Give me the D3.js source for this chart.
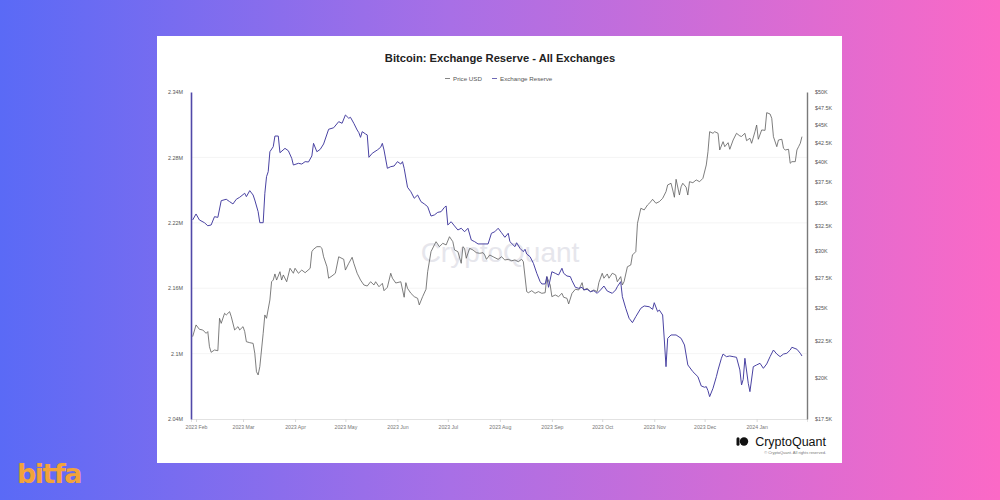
<!DOCTYPE html>
<html>
<head>
<meta charset="utf-8">
<script src="https://cdn.jsdelivr.net/npm/d3@7"></script>
<style>
  html, body { margin: 0; padding: 0; }
  body { width: 1000px; height: 500px; overflow: hidden; font-family: "Liberation Sans", Arial, sans-serif; }
</style>
</head>
<body>
<svg id="chart" width="1000" height="500"></svg>
<script>
// Exchange reserve (BTC, millions)
const reserveDates = [
  '2023-01-30','2023-02-01','2023-02-03','2023-02-06','2023-02-08','2023-02-10','2023-02-12','2023-02-14','2023-02-16','2023-02-19',
  '2023-02-21','2023-02-23','2023-02-25','2023-02-27','2023-03-02','2023-03-03','2023-03-05','2023-03-07','2023-03-08','2023-03-10',
  '2023-03-11','2023-03-13','2023-03-14','2023-03-15','2023-03-16','2023-03-17','2023-03-19','2023-03-20','2023-03-22','2023-03-23',
  '2023-03-26','2023-03-28','2023-03-30','2023-03-31','2023-04-03','2023-04-05','2023-04-07','2023-04-09','2023-04-11','2023-04-12',
  '2023-04-14','2023-04-16','2023-04-18','2023-04-21','2023-04-24','2023-04-27','2023-04-29','2023-05-01','2023-05-03','2023-05-04',
  '2023-05-06','2023-05-08','2023-05-09','2023-05-10','2023-05-11','2023-05-13','2023-05-14','2023-05-15','2023-05-17','2023-05-20',
  '2023-05-22','2023-05-23','2023-05-24','2023-05-26','2023-05-28','2023-05-30','2023-06-01','2023-06-03','2023-06-04','2023-06-05',
  '2023-06-07','2023-06-09','2023-06-11','2023-06-13','2023-06-15','2023-06-17','2023-06-19','2023-06-21','2023-06-23','2023-06-25',
  '2023-06-27','2023-06-29','2023-06-30','2023-07-01','2023-07-03','2023-07-05','2023-07-07','2023-07-09','2023-07-11','2023-07-13',
  '2023-07-15','2023-07-17','2023-07-19','2023-07-22','2023-07-25','2023-07-27','2023-07-29','2023-07-31','2023-08-02','2023-08-04',
  '2023-08-06','2023-08-07','2023-08-10','2023-08-11','2023-08-13','2023-08-15','2023-08-16','2023-08-17','2023-08-19','2023-08-21',
  '2023-08-23','2023-08-25','2023-08-26','2023-08-28','2023-08-29','2023-08-30','2023-09-01','2023-09-03','2023-09-05','2023-09-07',
  '2023-09-08','2023-09-10','2023-09-12','2023-09-13','2023-09-15','2023-09-17','2023-09-19','2023-09-20','2023-09-22','2023-09-24',
  '2023-09-26','2023-09-28','2023-09-30','2023-10-02','2023-10-04','2023-10-07','2023-10-09','2023-10-10','2023-10-12','2023-10-13',
  '2023-10-15','2023-10-17','2023-10-19','2023-10-21','2023-10-24','2023-10-26','2023-10-29','2023-10-31','2023-11-01','2023-11-03',
  '2023-11-04','2023-11-06','2023-11-07','2023-11-08','2023-11-09','2023-11-11','2023-11-14','2023-11-17','2023-11-19','2023-11-21',
  '2023-11-24','2023-11-27','2023-11-29','2023-12-01','2023-12-02','2023-12-03','2023-12-04','2023-12-06','2023-12-08','2023-12-09',
  '2023-12-11','2023-12-12','2023-12-14','2023-12-16','2023-12-18','2023-12-20','2023-12-22','2023-12-23','2023-12-24','2023-12-25',
  '2023-12-27','2023-12-28','2023-12-30','2024-01-01','2024-01-03','2024-01-05','2024-01-07','2024-01-09','2024-01-11','2024-01-13',
  '2024-01-15','2024-01-17','2024-01-19','2024-01-21','2024-01-22','2024-01-25','2024-01-27','2024-01-28'
];
const reserveValues = [
  2.2226,2.2281,2.2226,2.2201,2.2173,2.2180,2.2256,2.2250,2.2403,2.2416,
  2.2394,2.2373,2.2416,2.2434,2.2471,2.2440,2.2495,2.2455,2.2409,2.2302,
  2.2201,2.2201,2.2471,2.2623,2.2669,2.2852,2.2898,2.2996,2.2996,2.2843,
  2.2883,2.2861,2.2792,2.2730,2.2746,2.2739,2.2761,2.2758,2.2813,2.2929,
  2.2852,2.2874,2.2923,2.3058,2.3072,2.3128,2.3113,2.3189,2.3159,2.3168,
  2.3113,2.3051,2.3027,2.2984,2.3036,2.3015,2.3006,2.2801,2.2838,2.2868,
  2.2893,2.2929,2.2868,2.2700,2.2715,2.2721,2.2761,2.2739,2.2761,2.2700,
  2.2526,2.2485,2.2425,2.2455,2.2394,2.2373,2.2348,2.2262,2.2272,2.2296,
  2.2302,2.2342,2.2354,2.2180,2.2210,2.2171,2.2134,2.2150,2.2118,2.2150,
  2.2042,2.2027,2.2006,2.2006,2.2006,2.2104,2.2118,2.2150,2.2109,2.2067,
  2.2104,2.2027,2.1981,2.2017,2.1966,2.1935,2.1957,2.1914,2.1889,2.1828,
  2.1737,2.1660,2.1639,2.1639,2.1706,2.1608,2.1751,2.1737,2.1721,2.1783,
  2.1737,2.1712,2.1706,2.1669,2.1608,2.1599,2.1608,2.1584,2.1590,2.1568,
  2.1577,2.1553,2.1584,2.1620,2.1574,2.1553,2.1584,2.1614,2.1660,2.1522,
  2.1416,2.1324,2.1284,2.1339,2.1416,2.1437,2.1430,2.1406,2.1467,2.1385,
  2.1400,2.1354,2.1125,2.0880,2.1140,2.1171,2.1171,2.1140,2.1079,2.0896,
  2.0834,2.0788,2.0703,2.0691,2.0697,2.0660,2.0605,2.0682,2.0788,2.0850,
  2.0957,2.0996,2.0972,2.0978,2.0972,2.0966,2.0850,2.0712,2.0764,2.0957,
  2.0728,2.0651,2.0880,2.0896,2.0911,2.0865,2.0905,2.0972,2.1033,2.0996,
  2.0972,2.0996,2.1003,2.1033,2.1058,2.1040,2.1003,2.0978
];

// Price USD (thousands)
const priceDates = [
  '2023-01-30','2023-02-01','2023-02-03','2023-02-05','2023-02-07','2023-02-08','2023-02-09','2023-02-10','2023-02-12','2023-02-14',
  '2023-02-15','2023-02-16','2023-02-18','2023-02-19','2023-02-21','2023-02-22','2023-02-24','2023-02-26','2023-02-27','2023-03-01',
  '2023-03-02','2023-03-03','2023-03-05','2023-03-07','2023-03-08','2023-03-09','2023-03-10','2023-03-11','2023-03-13','2023-03-14',
  '2023-03-15','2023-03-17','2023-03-18','2023-03-19','2023-03-20','2023-03-21','2023-03-23','2023-03-24','2023-03-25','2023-03-27',
  '2023-03-29','2023-03-31','2023-04-01','2023-04-03','2023-04-05','2023-04-07','2023-04-10','2023-04-11','2023-04-12','2023-04-14',
  '2023-04-16','2023-04-17','2023-04-18','2023-04-20','2023-04-21','2023-04-23','2023-04-25','2023-04-27','2023-04-30','2023-05-01',
  '2023-05-03','2023-05-05','2023-05-06','2023-05-08','2023-05-10','2023-05-12','2023-05-14','2023-05-16','2023-05-18','2023-05-19',
  '2023-05-21','2023-05-23','2023-05-24','2023-05-26','2023-05-28','2023-05-29','2023-05-31','2023-06-03','2023-06-05','2023-06-06',
  '2023-06-07','2023-06-09','2023-06-11','2023-06-13','2023-06-14','2023-06-16','2023-06-18','2023-06-19','2023-06-21','2023-06-23',
  '2023-06-24','2023-06-26','2023-06-28','2023-06-30','2023-07-02','2023-07-04','2023-07-05','2023-07-07','2023-07-09','2023-07-10',
  '2023-07-11','2023-07-12','2023-07-14','2023-07-16','2023-07-18','2023-07-20','2023-07-22','2023-07-23','2023-07-24','2023-07-26',
  '2023-07-28','2023-07-31','2023-08-02','2023-08-04','2023-08-06','2023-08-08','2023-08-10','2023-08-12','2023-08-14','2023-08-15',
  '2023-08-17','2023-08-18','2023-08-20','2023-08-22','2023-08-24','2023-08-26','2023-08-28','2023-08-29','2023-08-31','2023-09-01',
  '2023-09-03','2023-09-05','2023-09-07','2023-09-08','2023-09-10','2023-09-11','2023-09-13','2023-09-15','2023-09-17','2023-09-19',
  '2023-09-20','2023-09-22','2023-09-24','2023-09-26','2023-09-28','2023-09-29','2023-10-01','2023-10-02','2023-10-04','2023-10-05',
  '2023-10-07','2023-10-09','2023-10-10','2023-10-12','2023-10-13','2023-10-14','2023-10-16','2023-10-18','2023-10-19','2023-10-21',
  '2023-10-22','2023-10-24','2023-10-26','2023-10-28','2023-10-30','2023-10-31','2023-11-02','2023-11-04','2023-11-06','2023-11-08',
  '2023-11-09','2023-11-11','2023-11-12','2023-11-13','2023-11-14','2023-11-16','2023-11-17','2023-11-18','2023-11-20','2023-11-21',
  '2023-11-22','2023-11-24','2023-11-26','2023-11-28','2023-11-30','2023-12-02','2023-12-03','2023-12-04','2023-12-06','2023-12-07',
  '2023-12-09','2023-12-10','2023-12-12','2023-12-13','2023-12-15','2023-12-16','2023-12-18','2023-12-20','2023-12-22','2023-12-23',
  '2023-12-25','2023-12-26','2023-12-28','2023-12-29','2023-12-31','2024-01-01','2024-01-02','2024-01-04','2024-01-06','2024-01-07',
  '2024-01-09','2024-01-10','2024-01-11','2024-01-13','2024-01-14','2024-01-16','2024-01-17','2024-01-18','2024-01-20','2024-01-21',
  '2024-01-22','2024-01-24','2024-01-25','2024-01-26','2024-01-27','2024-01-28'
];
const priceValues = [
  22.80,23.67,23.34,23.29,23.04,23.17,22.07,21.68,21.84,21.79,
  24.18,23.79,24.57,24.44,24.70,24.30,23.29,23.54,23.29,23.54,
  23.17,22.43,22.36,22.31,21.61,20.37,20.16,20.70,23.04,24.44,
  24.18,25.64,27.19,27.34,27.88,27.34,28.08,27.34,27.79,27.19,
  28.39,27.94,28.39,27.94,28.23,27.99,28.39,29.95,30.18,30.43,
  30.43,30.27,29.46,28.53,27.50,27.70,27.94,29.46,29.22,28.23,
  28.85,29.41,28.85,27.94,27.34,26.91,26.82,27.19,26.91,27.19,
  26.76,27.05,26.42,26.71,27.94,27.50,27.08,27.19,25.87,27.11,
  26.62,26.20,25.92,25.78,25.24,25.92,26.54,28.08,29.95,30.60,
  30.92,30.43,30.76,30.60,31.42,30.92,30.11,29.95,28.85,30.43,
  30.27,29.32,30.27,30.11,29.85,29.79,29.85,29.63,29.22,29.63,
  29.46,29.22,29.46,29.16,29.22,29.09,29.16,29.00,29.22,29.00,
  26.34,26.25,26.42,26.20,26.34,26.20,26.25,27.64,26.91,25.92,
  26.06,25.92,26.20,25.87,25.78,25.32,26.20,26.54,26.48,27.11,
  26.48,26.62,26.34,26.48,26.34,27.11,27.94,27.50,27.88,27.50,
  27.94,27.79,27.19,27.64,26.91,27.19,28.53,28.69,29.63,29.95,
  32.80,34.42,34.24,34.79,35.16,35.43,34.98,35.16,35.54,36.31,
  37.10,37.30,36.50,35.66,37.78,35.92,36.89,37.30,36.82,35.92,
  37.49,37.37,37.70,37.49,37.90,39.56,41.28,44.02,43.79,44.02,
  43.79,41.51,42.63,41.95,42.49,41.60,42.86,43.79,43.42,43.35,
  43.79,42.77,43.10,42.41,44.02,44.97,42.96,44.26,44.21,46.79,
  46.59,45.95,43.32,41.95,42.86,42.96,41.73,41.51,41.60,39.77,
  39.98,39.98,41.51,41.95,42.41,43.32
];

// Axis ticks
const reserveTicks = [2.04, 2.1, 2.16, 2.22, 2.28, 2.34];
const reserveTickLabels = ['2.04M', '2.1M', '2.16M', '2.22M', '2.28M', '2.34M'];
const priceTicks = [17.5, 20, 22.5, 25, 27.5, 30, 32.5, 35, 37.5, 40, 42.5, 45, 47.5, 50];
const priceTickLabels = ['$17.5K', '$20K', '$22.5K', '$25K', '$27.5K', '$30K', '$32.5K', '$35K', '$37.5K', '$40K', '$42.5K', '$45K', '$47.5K', '$50K'];

const parseDate = d3.utcParse('%Y-%m-%d');
const reserveData = reserveDates.map((d, i) => ({ date: parseDate(d), value: reserveValues[i] }));
const priceData = priceDates.map((d, i) => ({ date: parseDate(d), value: priceValues[i] }));

const svg = d3.select('#chart');

// Background gradient
const defs = svg.append('defs');
const grad = defs.append('linearGradient').attr('id', 'bg').attr('x1', '0').attr('x2', '1').attr('y1', '0').attr('y2', '0');
grad.append('stop').attr('offset', '0%').attr('stop-color', '#5a6af6');
grad.append('stop').attr('offset', '45%').attr('stop-color', '#a86fe6');
grad.append('stop').attr('offset', '100%').attr('stop-color', '#fb69c6');
svg.append('rect').attr('width', 1000).attr('height', 500).attr('fill', 'url(#bg)');

// White card
svg.append('rect').attr('x', 157).attr('y', 36).attr('width', 685).attr('height', 427).attr('fill', '#fff');

// Plot area
const plotLeft = 191, plotRight = 807, plotTop = 92, plotBottom = 419;

const x = d3.scaleUtc()
  .domain([parseDate('2023-01-29'), parseDate('2024-01-31')])
  .range([plotLeft, plotRight]);
const yL = d3.scaleLinear().domain([2.04, 2.34]).range([plotBottom, plotTop]);
const yR = d3.scaleLog().domain([17.5, 50]).range([plotBottom, plotTop]);

// Title
svg.append('text')
  .attr('x', 500).attr('y', 62)
  .attr('text-anchor', 'middle')
  .attr('font-size', '11.2px').attr('font-weight', 'bold').attr('fill', '#222')
  .text('Bitcoin: Exchange Reserve - All Exchanges');

// Legend
const legendItems = [
  { name: 'Price USD', color: '#666', x: 445 },
  { name: 'Exchange Reserve', color: '#4a43a3', x: 492 }
];
const legend = svg.append('g').attr('class', 'legend');
legendItems.forEach(item => {
  legend.append('line')
    .attr('x1', item.x).attr('x2', item.x + 5)
    .attr('y1', 78.5).attr('y2', 78.5)
    .attr('stroke', item.color).attr('stroke-width', 0.8);
  legend.append('text')
    .attr('x', item.x + 8).attr('y', 80.5)
    .attr('font-size', '6.2px').attr('fill', '#555')
    .text(item.name);
});

// Gridlines
svg.append('g')
  .selectAll('line')
  .data(reserveTicks.slice(1, -1))
  .enter()
  .append('line')
  .attr('x1', plotLeft).attr('x2', plotRight)
  .attr('y1', d => yL(d)).attr('y2', d => yL(d))
  .attr('stroke', '#f1f1f1').attr('stroke-width', 0.8);

// Watermark
svg.append('text')
  .attr('x', 500).attr('y', 262)
  .attr('text-anchor', 'middle')
  .attr('font-size', '28px').attr('fill', '#e6e6ec')
  .text('CryptoQuant');

// X axis
const xAxis = d3.axisBottom(x)
  .ticks(d3.utcMonth.every(1))
  .tickFormat(d3.utcFormat('%Y %b'))
  .tickSize(3)
  .tickPadding(3);
const gx = svg.append('g')
  .attr('transform', `translate(0,${plotBottom})`)
  .call(xAxis);
gx.select('.domain').attr('stroke', '#e2e2e2');
gx.selectAll('.tick line').attr('stroke', '#d8d8d8');
gx.selectAll('.tick text').attr('font-size', '5.2px').attr('fill', '#777')
  .attr('font-family', '"Liberation Sans", Arial, sans-serif');

// Left axis
const gl = svg.append('g')
  .attr('transform', `translate(${plotLeft},0)`)
  .call(d3.axisLeft(yL).tickValues(reserveTicks).tickFormat((d, i) => reserveTickLabels[i]).tickSize(0).tickPadding(8));
gl.select('.domain').attr('stroke', '#5048a8').attr('stroke-width', 1.6);
gl.selectAll('.tick text').attr('font-size', '5.4px').attr('fill', '#555')
  .attr('font-family', '"Liberation Sans", Arial, sans-serif');

// Right axis
const gr = svg.append('g')
  .attr('transform', `translate(${plotRight},0)`)
  .call(d3.axisRight(yR).tickValues(priceTicks).tickFormat((d, i) => priceTickLabels[i]).tickSize(0).tickPadding(8));
gr.select('.domain').attr('stroke', '#7a7a7a').attr('stroke-width', 1.4);
gr.selectAll('.tick text').attr('font-size', '5.4px').attr('fill', '#555')
  .attr('font-family', '"Liberation Sans", Arial, sans-serif');

// Lines
const priceLine = d3.line().x(d => x(d.date)).y(d => yR(d.value));
const reserveLine = d3.line().x(d => x(d.date)).y(d => yL(d.value));

svg.append('path')
  .datum(priceData)
  .attr('d', priceLine)
  .attr('fill', 'none')
  .attr('stroke', '#5d5d5d')
  .attr('stroke-width', 0.8)
  .attr('stroke-linejoin', 'round');

svg.append('path')
  .datum(reserveData)
  .attr('d', reserveLine)
  .attr('fill', 'none')
  .attr('stroke', '#4a43a3')
  .attr('stroke-width', 1)
  .attr('stroke-linejoin', 'round');

// CryptoQuant logo (bottom right)
const logo = svg.append('g');
logo.append('circle').attr('cx', 744).attr('cy', 441.5).attr('r', 4.2).attr('fill', '#111');
logo.append('rect').attr('x', 736.5).attr('y', 437.3).attr('width', 3).attr('height', 8.4).attr('rx', 1.5).attr('fill', '#111');
logo.append('text')
  .attr('x', 826).attr('y', 446)
  .attr('text-anchor', 'end')
  .attr('font-size', '12.5px').attr('fill', '#111')
  .text('CryptoQuant');
logo.append('text')
  .attr('x', 826).attr('y', 453.5)
  .attr('text-anchor', 'end')
  .attr('font-size', '4px').attr('fill', '#777')
  .text('© CryptoQuant. All rights reserved.');

// bitfa brand
svg.append('text')
  .attr('x', 17).attr('y', 483)
  .attr('font-size', '27px').attr('font-weight', 'bold').attr('fill', '#f2a33a')
  .attr('font-family', '"DejaVu Sans", sans-serif')
  .attr('letter-spacing', '-1.5px')
  .text('bitfa');
</script>
</body>
</html>
